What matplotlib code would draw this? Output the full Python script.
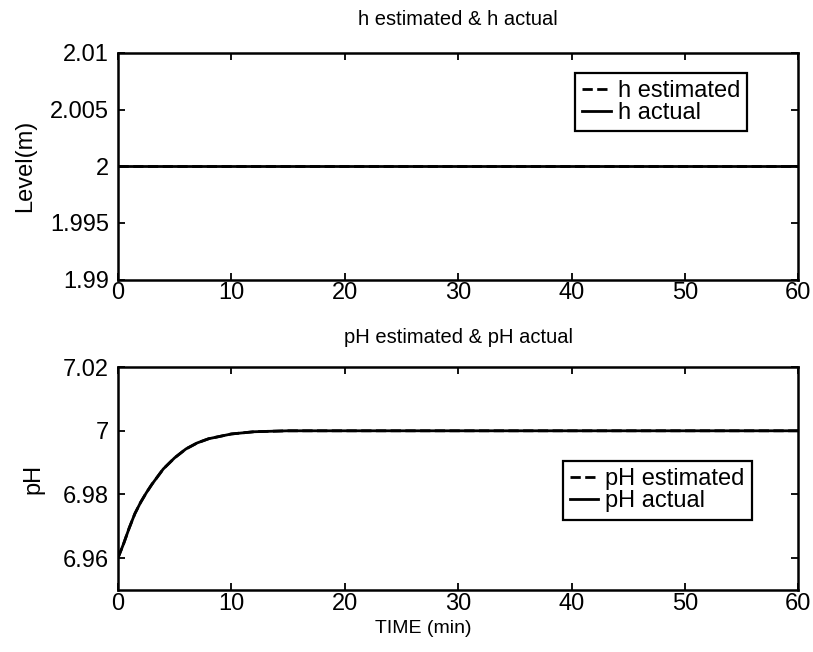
import matplotlib
matplotlib.use("Agg")
import matplotlib.pyplot as plt

# --- Donnees ---
temps_h = [0, 60]
h_estime = [2.0, 2.0]
h_reel = [2.0, 2.0]

temps_ph = [0, 0.5, 1, 1.5, 2, 2.5, 3, 4, 5, 6, 7, 8, 10, 12, 15, 20, 30, 40, 50, 60]
ph_estime = [6.960, 6.9645, 6.9695, 6.9740, 6.9775, 6.9805, 6.9832, 6.9880, 6.9915,
             6.9943, 6.9962, 6.9975, 6.9990, 6.9997, 7.0, 7.0, 7.0, 7.0, 7.0, 7.0]
ph_reel = list(ph_estime)

ticks_x = [0, 10, 20, 30, 40, 50, 60]
ticks_h = [1.99, 1.995, 2.0, 2.005, 2.01]
labels_h = ["1.99", "1.995", "2", "2.005", "2.01"]
ticks_ph = [6.96, 6.98, 7.0, 7.02]
labels_ph = ["6.96", "6.98", "7", "7.02"]

plt.rcParams["font.family"] = ["Liberation Sans", "DejaVu Sans"]

fig = plt.figure(figsize=(8.13, 6.52), dpi=100)
ax1 = fig.add_axes([0.145, 0.571, 0.837, 0.348])
ax2 = fig.add_axes([0.145, 0.095, 0.837, 0.342])


def style_axe(ax):
    for s in ax.spines.values():
        s.set_linewidth(1.8)
    ax.tick_params(direction="in", top=True, right=True, length=5, width=1.3,
                   labelsize=17)
    ax.tick_params(axis="y", pad=6.5)
    ax.tick_params(axis="x", pad=2)
    ax.set_xlim(0, 60)
    ax.set_xticks(ticks_x)


def legende(ax, pos):
    leg = ax.legend(loc="upper left", bbox_to_anchor=pos, fontsize=17,
                    handlelength=1.2, handletextpad=0.3, labelspacing=0.0,
                    borderpad=0.3, borderaxespad=0, fancybox=False,
                    edgecolor="black", framealpha=1)
    leg.get_frame().set_linewidth(1.6)
    return leg


ax1.plot(temps_h, h_estime, "k--", lw=2, label="h estimated")
ax1.plot(temps_h, h_reel, "k-", lw=2, label="h actual")
style_axe(ax1)
ax1.set_ylim(1.99, 2.01)
ax1.set_yticks(ticks_h)
ax1.set_yticklabels(labels_h)
ax1.set_ylabel("Level(m)", fontsize=17, labelpad=10)
ax1.set_title("h estimated & h actual", fontsize=14.5, pad=20)
legende(ax1, (0.672, 0.912))

ax2.plot(temps_ph, ph_estime, "k--", lw=2, label="pH estimated")
ax2.plot(temps_ph, ph_reel, "k-", lw=2, label="pH actual")
style_axe(ax2)
ax2.set_ylim(6.95, 7.02)
ax2.set_yticks(ticks_ph)
ax2.set_yticklabels(labels_ph)
ax2.set_ylabel("pH", fontsize=17, labelpad=13)
ax2.set_xlabel("TIME (min)", fontsize=14)
ax2.xaxis.set_label_coords(0.449, -0.135)
ax2.set_title("pH estimated & pH actual", fontsize=14.5, pad=17)
legende(ax2, (0.654, 0.577))

fig.savefig("out.png", dpi=100)
